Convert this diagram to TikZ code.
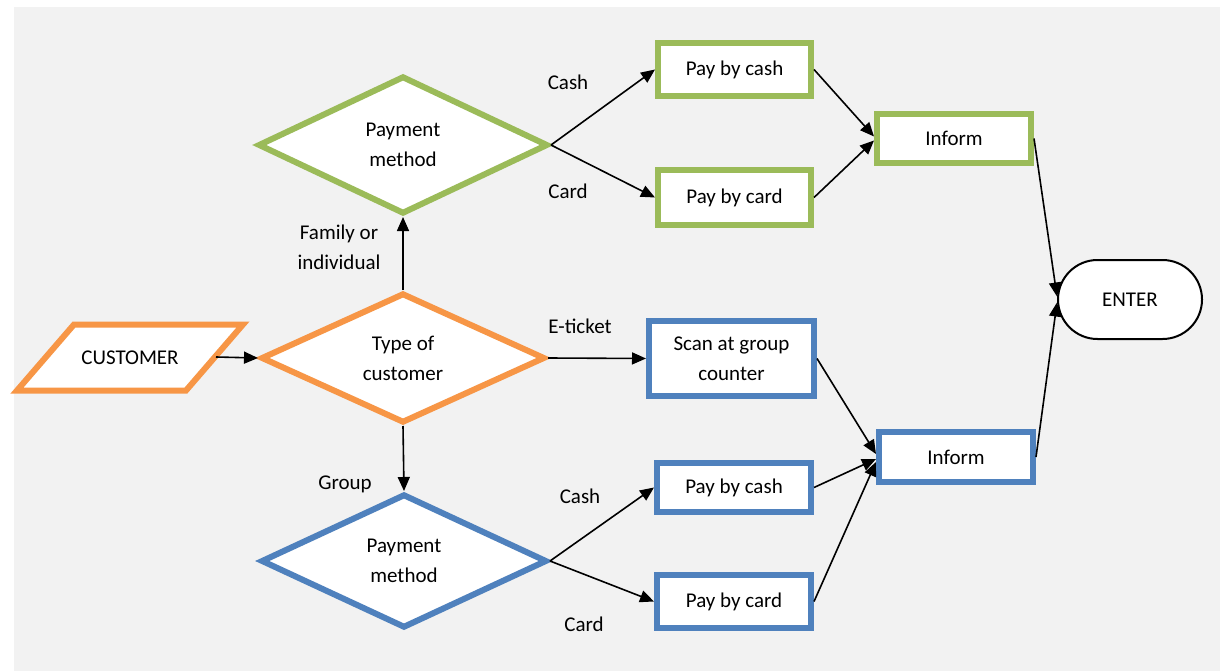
\documentclass[tikz,border=0pt]{standalone}
\usepackage{fontspec}
\setmainfont{Carlito}
\usetikzlibrary{shapes.geometric,arrows.meta,calc}
\definecolor{bggray}{HTML}{F2F2F2}
\definecolor{myorange}{HTML}{F79646}
\definecolor{mygreen}{HTML}{9BBB59}
\definecolor{myblue}{HTML}{4F81BD}
\begin{document}
\begin{tikzpicture}[x=1pt,y=-1pt,
  font=\fontsize{21}{30}\selectfont,
  box/.style={draw, fill=white, line width=6pt, align=center, inner sep=0pt},
  dia/.style={diamond, draw, fill=white, line width=6pt, align=center, inner sep=0pt},
  lbl/.style={inner sep=0pt, align=center},
  arr/.style={line width=1.6pt, -{Triangle[length=14pt,width=12pt]}}
]
\useasboundingbox (0,0) rectangle (1220,671);
\fill[bggray] (14,7) rectangle (1220,671);

% customer parallelogram
\draw[draw=myorange, line width=6pt, fill=white, line join=miter] (74,324.5) -- (243,324.5) -- (186,390.5) -- (17,390.5) -- cycle;
\node[lbl] (cust) at (130,358) {CUSTOMER};
\coordinate (custR) at (216,357);

% diamonds
\node[dia, draw=myorange, minimum width=284, minimum height=130] (type) at (403,358) {Type of\\customer};
\node[dia, draw=mygreen, minimum width=290, minimum height=138] (pmg) at (403,145) {Payment\\method};
\node[dia, draw=myblue, minimum width=286, minimum height=134] (pmb) at (404,561) {Payment\\method};

% green boxes
\node[box, draw=mygreen, minimum width=153, minimum height=53] (gcash) at (734.5,69.5) {Pay by cash};
\node[box, draw=mygreen, minimum width=153, minimum height=55] (gcard) at (734.5,197.5) {Pay by card};
\node[box, draw=mygreen, minimum width=154, minimum height=49] (ginf) at (954,138.5) {Inform};

% blue boxes
\node[box, draw=myblue, minimum width=165, minimum height=75] (scan) at (731.5,358.5) {Scan at group\\counter};
\node[box, draw=myblue, minimum width=154, minimum height=50] (binf) at (956,457) {Inform};
\node[box, draw=myblue, minimum width=154, minimum height=49] (bcash) at (734,487.5) {Pay by cash};
\node[box, draw=myblue, minimum width=154, minimum height=53] (bcard) at (734,601.5) {Pay by card};

% enter
\node[draw, fill=white, line width=2pt, minimum width=144, minimum height=79, rounded corners=39.5pt, inner sep=0pt] (enter) at (1130,299.5) {ENTER};

% labels
\node[lbl] (lcash1) at (568,82) {Cash};
\node[lbl] (lcard1) at (568,191) {Card};
\node[lbl] (lfam) at (339,247) {Family or\\individual};
\node[lbl] (leti) at (580,326) {E-ticket};
\node[lbl] (lgrp) at (345,484) {Group};
\node[lbl] (lcash2) at (580,496) {Cash};
\node[lbl] (lcard2) at (584,624) {Card};

% connectors
\draw[arr] (custR) -- (type.west);
\draw[arr] (type.north) -- (pmg.south);
\draw[arr] (type.south) -- (pmb.north);
\draw[arr] (type.east) -- (scan.west);
\draw[arr] (pmg.east) -- (gcash.west);
\draw[arr] (pmg.east) -- (gcard.west);
\draw[arr] (pmb.east) -- (bcash.west);
\draw[arr] (pmb.east) -- (bcard.west);
\draw[arr] (gcash.east) -- ($(ginf.west)+(0,-2)$);
\draw[arr] (gcard.east) -- ($(ginf.west)+(0,2)$);
\draw[arr] (ginf.east) -- ($(enter.west)+(0,-3)$);
\draw[arr] (binf.east) -- ($(enter.west)+(0,3)$);
\draw[arr] (scan.east) -- ($(binf.west)+(0,-3)$);
\draw[arr] (bcash.east) -- ($(binf.west)+(0,2)$);
\draw[arr] (bcard.east) -- ($(binf.west)+(0,5)$);
\end{tikzpicture}
\end{document}
